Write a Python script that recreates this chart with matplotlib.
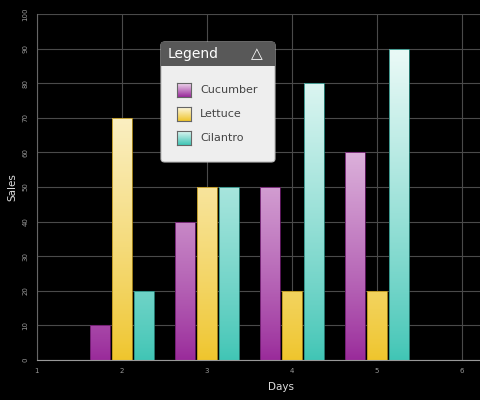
import numpy as np
import matplotlib.pyplot as plt
from matplotlib.colors import LinearSegmentedColormap
from matplotlib.patches import FancyBboxPatch, Rectangle

# data
days = [2, 3, 4, 5]
series_names = ["Cucumber", "Lettuce", "Cilantro"]
cucumber = [10, 40, 50, 60]
lettuce = [70, 50, 20, 20]
cilantro = [20, 50, 80, 90]

# top (light) and bottom (strong) gradient colours
grad_colors = {
    "Cucumber": ("#f5e4f3", "#992a9a"),
    "Lettuce": ("#fdf8e2", "#efc52c"),
    "Cilantro": ("#e8f9f6", "#40c5b5"),
}
edge_colors = {"Cucumber": "#6a1a6a", "Lettuce": "#b8921c", "Cilantro": "#2a8a80"}

fig = plt.figure(figsize=(4.8, 4.0), dpi=100, facecolor="black")
ax = fig.add_axes([0.077, 0.1, 0.923, 0.865])
ax.set_facecolor("black")

ax.set_xticks([1, 2, 3, 4, 5, 6])
ax.set_yticks(range(0, 101, 10))
ax.grid(True, color="#4a4a4a", linewidth=0.8)
ax.set_axisbelow(True)
for s in ["top", "right"]:
    ax.spines[s].set_visible(False)
ax.spines["left"].set_color("#666666")
ax.spines["bottom"].set_color("#999999")
ax.tick_params(length=0, colors="#999999", labelsize=5, pad=6)
for lbl in ax.get_yticklabels():
    lbl.set_rotation(90)
    lbl.set_va("center")

ax.set_xlabel("Days", color="#dddddd", fontsize=7.5)
ax.xaxis.set_label_coords(0.55, -0.065)
ax.set_ylabel("Sales", color="#dddddd", fontsize=7.5, labelpad=4)

width = 0.235
offsets = [-0.26, 0.0, 0.26]
values = [cucumber, lettuce, cilantro]

# gradient depends on absolute height: dark at the base, light near the top of the chart
yy = np.linspace(0, 100, 400)
grad = np.clip(yy / 88, 0, 1).reshape(-1, 1) ** 0.85
for name, vals, off in zip(series_names, values, offsets):
    top, bottom = grad_colors[name]
    cmap = LinearSegmentedColormap.from_list(name, [bottom, top])
    xs = [d + off for d in days]
    bars = ax.bar(xs, vals, width=width, color="none",
                  edgecolor=edge_colors[name], linewidth=0.6, zorder=3)
    for bar in bars:
        x0 = bar.get_x()
        im = ax.imshow(grad, cmap=cmap, origin="lower", aspect="auto",
                       extent=[x0, x0 + width, 0, 100], zorder=2, vmin=0, vmax=1)
        im.set_clip_path(bar)
ax.set_xlim(1, 6.21)
ax.set_ylim(0, 100)

# legend panel drawn by hand
lx, ly, lw, lh = 161 / 480, 1 - 162 / 400, 114 / 480, 120 / 400
body = FancyBboxPatch((lx, ly), lw, lh, boxstyle="round,pad=0,rounding_size=0.008",
                      transform=fig.transFigure, facecolor="#eeeeee",
                      edgecolor="#bbbbbb", linewidth=0.8, zorder=10)
fig.patches.append(body)
hh = 24 / 400
header = Rectangle((lx, ly + lh - hh), lw, hh, transform=fig.transFigure,
                   facecolor="#585858", edgecolor="none", zorder=11)
fig.patches.append(header)
fig.text(lx + 7 / 480, ly + lh - hh / 2, "Legend", color="white", fontsize=10,
         va="center", ha="left", zorder=12)
fig.text(lx + lw - 18 / 480, ly + lh - hh / 2 + 0.002, "\u25b3", color="white", fontsize=11,
         va="center", ha="center", fontweight="bold", zorder=12)

lgrad = np.linspace(0, 1, 64).reshape(-1, 1)
for i, name in enumerate(series_names):
    top, bottom = grad_colors[name]
    cy = 1 - (90 + i * 24) / 400
    sx, sw, sh = 177 / 480, 14 / 480, 14 / 400
    cmap = LinearSegmentedColormap.from_list(name + "_l", [bottom, top])
    sax = fig.add_axes([sx, cy - sh / 2, sw, sh], zorder=13)
    sax.imshow(lgrad, cmap=cmap, origin="lower", aspect="auto")
    sax.set_xticks([])
    sax.set_yticks([])
    for sp in sax.spines.values():
        sp.set_color("#666666")
        sp.set_linewidth(0.8)
    fig.text(200 / 480, cy, name, color="#444444", fontsize=8,
             va="center", ha="left", zorder=14)

fig.savefig("out.png", dpi=100, facecolor="black")
